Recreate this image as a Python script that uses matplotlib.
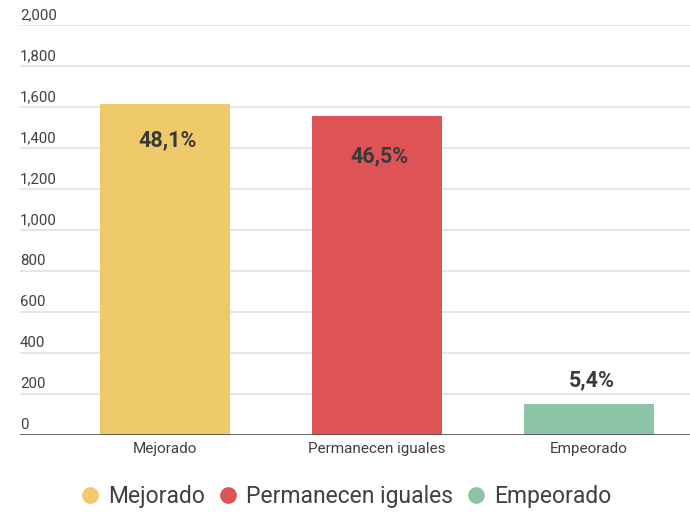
import matplotlib
matplotlib.use("Agg")
import matplotlib.pyplot as plt
from matplotlib.lines import Line2D
import matplotlib.transforms as mtransforms

categories = ["Mejorado", "Permanecen iguales", "Empeorado"]
values = [1614, 1557, 152]
pct_labels = ["48,1%", "46,5%", "5,4%"]
colors = ["#EECA6A", "#DE5456", "#8DC4A7"]
yticks = [0, 200, 400, 600, 800, 1000, 1200, 1400, 1600, 1800, 2000]
ytick_labels = ["0", "200", "400", "600", "800", "1,000", "1,200", "1,400", "1,600", "1,800", "2,000"]

plt.rcParams['font.family'] = ['Roboto', 'DejaVu Sans']
text_color = "#404040"

fig = plt.figure(figsize=(6.9, 5.14), dpi=100)
W, H = 690, 514
ax = fig.add_axes([20 / W, 1 - 435 / H, 670 / W, (435 - 25) / H])

x = list(range(len(categories)))
ax.bar(x, values, width=0.613, color=colors, zorder=2)
ax.set_xlim(-0.684, 2.476)
ax.set_ylim(0, 2000)

for t in yticks[1:]:
    ax.axhline(t, color="#e2e2e2", lw=1.2, zorder=1)
ax.axhline(0, color="#555555", lw=2, zorder=3)

for s in ax.spines.values():
    s.set_visible(False)
ax.set_yticks([])
ax.set_xticks(x)
ax.set_xticklabels(categories, fontsize=11, color=text_color)
ax.tick_params(axis='x', length=0, pad=5)

trans = mtransforms.blended_transform_factory(ax.transAxes, ax.transData)
off = mtransforms.ScaledTranslation(0, 2 / 72, fig.dpi_scale_trans)
for t, lab in zip(yticks, ytick_labels):
    ax.text(0, t, lab, transform=trans + off, ha='left', va='bottom',
            fontsize=10.8, color=text_color)

# percentage labels
offsets = [-36, -41, 23]
for xi, v, lab, o in zip(x, values, pct_labels, offsets):
    ax.annotate(lab, (xi, v), xytext=(2, o * 0.72), textcoords='offset points',
                ha='center', va='center', fontsize=15.5, fontweight='bold',
                color="#3a3a3a", zorder=4)

handles = [Line2D([0], [0], marker='o', linestyle='none', markersize=11,
                  markerfacecolor=c, markeredgecolor=c) for c in colors]
fig.legend(handles, categories, loc='center', bbox_to_anchor=(0.5, 1 - 497 / H),
           ncol=3, frameon=False, fontsize=16.5, handletextpad=0.3,
           handlelength=1.0, columnspacing=0.5, labelcolor=text_color,
           borderaxespad=0)

fig.savefig("out.png", dpi=100)
